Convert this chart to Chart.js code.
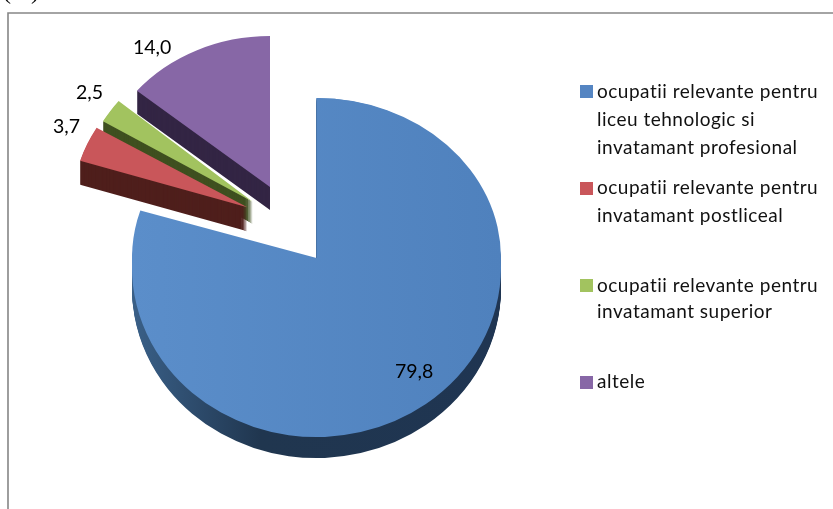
<!DOCTYPE html>
<html>
<head>
<meta charset="utf-8">
<script src="https://cdn.jsdelivr.net/npm/chart.js@4"></script>
<style>
  html, body { margin: 0; padding: 0; background: #fff; overflow: hidden; }
  #wrap { position: relative; width: 833px; height: 509px; }
  #unit { position: absolute; left: 3px; top: -22px; font: 24px "Liberation Serif"; color: #000; }
</style>
</head>
<body>
<div id="wrap">
  <div id="unit">(%)</div>
  <canvas id="pie" width="833" height="509"></canvas>
</div>
<script>
const categories = [
  ['ocupatii relevante pentru', 'liceu tehnologic si', 'invatamant profesional'],
  ['ocupatii relevante pentru', 'invatamant postliceal'],
  ['ocupatii relevante pentru', 'invatamant superior'],
  ['altele']
]
const values = [79.8, 3.7, 2.5, 14.0]
const valueLabels = ['79,8', '3,7', '2,5', '14,0']

const faceColors = ['#5585c2', '#c9565a', '#a2c35f', '#8767a6']
const wallColors = ['#1f3552', '#4f1f1c', '#3f5020', '#332544']

// the excel 3d look: where each slice moved to, how much it shrinks, how thick it is
const shiftX = [0, -69.2, -63.8, -46.5]
const shiftY = [0, -60.2, -65.8, -80.5]
const scaleX = [1, 0.949, 0.943, 0.936]
const scaleY = [0.919, 0.848, 0.856, 0.818]
const depth = [21, 24, 22, 23]
const drawOrder = [3, 2, 1, 0]

const labelX = [395, 53, 76, 133]
const labelY = [378, 133, 99, 54]
const legendBoxY = [85, 182, 279, 376]
const legendLineY = [[98, 126, 154], [194, 222], [292, 318], [388]]

function drawArcAs(ctx, arc, color, i, lift) {
  const saved = arc.options
  arc.options = Object.assign({}, saved, { backgroundColor: color, borderWidth: 0 })
  ctx.save()
  ctx.translate(arc.x + shiftX[i], arc.y + shiftY[i] + lift)
  ctx.scale(scaleX[i], scaleY[i])
  ctx.translate(-arc.x, -arc.y)
  arc.draw(ctx)
  ctx.restore()
  arc.options = saved
}

const pie3d = {
  id: 'pie3d',
  beforeDraw(chart) {
    const ctx = chart.ctx
    ctx.save()
    ctx.strokeStyle = '#868686'
    ctx.lineWidth = 1.6
    ctx.beginPath()
    ctx.moveTo(8, 509)
    ctx.lineTo(8, 13)
    ctx.lineTo(833, 13)
    ctx.stroke()
    ctx.restore()
  },
  beforeDatasetsDraw(chart) {
    const ctx = chart.ctx
    const arcs = chart.getDatasetMeta(0).data
    for (const i of drawOrder) {
      const arc = arcs[i]
      let wall = wallColors[i]
      let face = faceColors[i]
      if (i == 0) {
        wall = ctx.createLinearGradient(arc.x - 185, 0, arc.x + 185, 0)
        wall.addColorStop(0, '#3a6088')
        wall.addColorStop(0.35, '#20364f')
        wall.addColorStop(1, '#1f3552')
        face = ctx.createLinearGradient(arc.x - 185, 0, arc.x + 185, 0)
        face.addColorStop(0, '#5b8eca')
        face.addColorStop(1, '#4f81bd')
      }
      for (let d = depth[i]; d > 0; d--) {
        drawArcAs(ctx, arc, wall, i, d)
      }
      drawArcAs(ctx, arc, face, i, 0)
      if (i == 0) {
        // back of the big slice sits higher than its centre (perspective)
        ctx.save()
        ctx.translate(0, -9.5)
        const oldY = scaleY[0]
        scaleY[0] = 0.867
        drawArcAs(ctx, arc, face, 0, 0)
        scaleY[0] = oldY
        ctx.restore()
      }
    }
    return false
  },
  afterDraw(chart) {
    const ctx = chart.ctx
    ctx.save()
    ctx.fillStyle = '#000'
    ctx.textBaseline = 'alphabetic'
    ctx.font = '19.5px Lato'
    valueLabels.forEach((t, i) => ctx.fillText(t, labelX[i], labelY[i]))
    ctx.font = '19px Lato'
    ctx.letterSpacing = '0.5px'
    categories.forEach((lines, i) => {
      ctx.fillStyle = faceColors[i]
      ctx.fillRect(580, legendBoxY[i], 13, 13)
      ctx.fillStyle = '#111'
      lines.forEach((t, j) => ctx.fillText(t, 597, legendLineY[i][j]))
    })
    ctx.restore()
  }
}

new Chart(document.getElementById('pie'), {
  type: 'pie',
  data: {
    labels: categories.map(c => c.join(' ')),
    datasets: [{ data: values, radius: 184.5, backgroundColor: faceColors, borderWidth: 0 }]
  },
  options: {
    responsive: false,
    animation: false,
    layout: { padding: { right: 200, top: 26 } },
    plugins: { legend: { display: false }, tooltip: { enabled: false } }
  },
  plugins: [pie3d]
})
</script>
</body>
</html>
